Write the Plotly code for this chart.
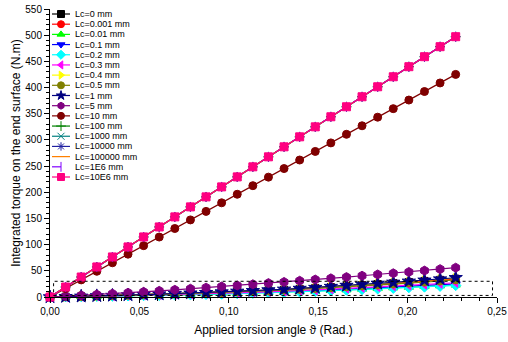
import plotly.graph_objects as go

# ---------------- data ----------------
angle_rad = [0, 0.00873, 0.01745, 0.02618, 0.03491, 0.04363, 0.05236, 0.06109, 0.06981,
             0.07854, 0.08727, 0.09599, 0.10472, 0.11345, 0.12217, 0.1309, 0.13963,
             0.14835, 0.15708, 0.16581, 0.17453, 0.18326, 0.19199, 0.20071, 0.20944,
             0.21817, 0.22689]

labels = ["Lc=0 mm", "Lc=0.001 mm", "Lc=0.01 mm", "Lc=0.1 mm", "Lc=0.2 mm", "Lc=0.3 mm",
          "Lc=0.4 mm", "Lc=0.5 mm", "Lc=1 mm", "Lc=5 mm", "Lc=10 mm", "Lc=100 mm",
          "Lc=1000 mm", "Lc=10000 mm", "Lc=100000 mm", "Lc=1E6 mm", "Lc=10E6 mm"]

torque_lc0 = [0, 0.6, 1.2, 2.0, 2.8, 3.6, 4.5, 5.4, 6.3, 7.2, 8.1, 9.2, 10.4, 11.6, 12.9, 14.2,
              15.7, 17.3, 19.1, 21.0, 22.9, 24.8, 26.8, 28.7, 30.7, 32.8, 35.0]
torque_lc0001 = [0, 0.6, 1.2, 1.9, 2.7, 3.5, 4.4, 5.3, 6.2, 7.1, 8.0, 9.1, 10.2, 11.4, 12.7, 14.0,
                 15.4, 17.0, 18.7, 20.6, 22.4, 24.3, 26.2, 28.1, 30.1, 32.1, 34.2]
torque_lc001 = [0, 0.4, 0.8, 1.3, 1.8, 2.4, 2.9, 3.5, 4.1, 4.6, 5.2, 5.9, 6.7, 7.5, 8.3, 9.1,
                10.1, 11.2, 12.4, 13.6, 14.9, 16.1, 17.4, 18.6, 19.9, 21.3, 22.8]
torque_lc01 = [0, 0.4, 0.9, 1.4, 2.0, 2.6, 3.2, 3.8, 4.5, 5.0, 5.7, 6.5, 7.3, 8.2, 9.1, 10.0,
               11.1, 12.2, 13.6, 15.0, 16.3, 17.7, 19.0, 20.4, 21.8, 23.3, 25.0]
torque_lc02 = [0, 0.4, 0.8, 1.3, 1.7, 2.3, 2.8, 3.4, 4.0, 4.4, 5.0, 5.7, 6.5, 7.2, 8.0, 8.8,
               9.8, 10.8, 12.0, 13.2, 14.4, 15.6, 16.8, 18.0, 19.2, 20.6, 22.1]
torque_lc03 = [0, 0.4, 0.9, 1.5, 2.1, 2.8, 3.5, 4.2, 4.9, 5.5, 6.2, 7.0, 8.0, 8.9, 9.9, 10.9,
               12.1, 13.3, 14.8, 16.3, 17.8, 19.2, 20.7, 22.2, 23.7, 25.4, 27.2]
torque_lc04 = [0, 0.6, 1.3, 2.1, 2.9, 3.7, 4.6, 5.5, 6.5, 7.4, 8.4, 9.5, 10.7, 11.9, 13.2, 14.6,
               16.1, 17.7, 19.5, 21.4, 23.3, 25.3, 27.3, 29.3, 31.4, 33.6, 36.0]
torque_lc05 = [0, 0.5, 1.1, 1.8, 2.5, 3.3, 4.1, 4.9, 5.8, 6.7, 7.6, 8.6, 9.7, 10.8, 12.0, 13.2,
               14.6, 16.1, 17.7, 19.4, 21.1, 22.9, 24.7, 26.5, 28.4, 30.4, 32.5]
torque_lc1 = [0, 0.6, 1.3, 2.1, 2.9, 3.8, 4.7, 5.6, 6.6, 7.4, 8.3, 9.5, 10.8, 12.0, 13.4, 14.7,
              16.3, 18.0, 20.0, 22.0, 24.0, 26.0, 28.0, 30.0, 32.0, 34.3, 36.8]
torque_lc5 = [0, 1.5, 3.1, 4.7, 6.4, 8.1, 9.8, 11.7, 13.7, 15.8, 17.9, 20.0, 22.0, 24.3, 26.5,
              28.7, 31.0, 33.3, 35.6, 38.0, 40.6, 43.0, 45.3, 47.8, 50.4, 53.2, 56.0]
torque_lc10 = [0, 16.4, 32.7, 49.1, 65.4, 81.8, 98.1, 114.5, 130.8, 147.2, 163.5, 179.9, 196.2,
               212.6, 228.9, 245.3, 261.6, 278.0, 294.3, 310.7, 327.0, 343.4, 359.7, 376.1,
               392.4, 408.8, 425.1]
torque_large = [0, 19.1, 38.2, 57.4, 76.5, 95.6, 114.7, 133.8, 153.0, 172.1, 191.2, 210.3, 229.4,
                248.6, 267.7, 286.8, 305.9, 325.0, 344.2, 363.3, 382.4, 401.5, 420.6, 439.8,
                458.9, 478.0, 497.1]

series_values = [torque_lc0, torque_lc0001, torque_lc001, torque_lc01, torque_lc02, torque_lc03,
                 torque_lc04, torque_lc05, torque_lc1, torque_lc5, torque_lc10,
                 torque_large, torque_large, torque_large, torque_large, torque_large, torque_large]

# ---------------- styles ----------------
styles = [
    dict(color="#000000", symbol="square", size=7, dash="solid"),
    dict(color="#ff0000", symbol="circle", size=8, dash="solid"),
    dict(color="#00ff00", symbol="triangle-up", size=8, dash="solid"),
    dict(color="#0000ff", symbol="triangle-down", size=8, dash="solid"),
    dict(color="#00ffff", symbol="diamond", size=8, dash="solid"),
    dict(color="#ff00ff", symbol="triangle-left", size=8, dash="solid"),
    dict(color="#ffff00", symbol="triangle-right", size=8, dash="solid"),
    dict(color="#808000", symbol="circle", size=8, dash="solid"),
    dict(color="#000080", symbol="star", size=10, dash="solid"),
    dict(color="#800080", symbol="hexagon", size=9, dash="solid"),
    dict(color="#800000", symbol="circle", size=8, dash="solid"),
    dict(color="#008000", symbol="cross-thin-open", size=7, dash="solid"),
    dict(color="#008080", symbol="x-thin-open", size=7, dash="solid"),
    dict(color="#2020a0", symbol="asterisk-open", size=8, dash="solid"),
    dict(color="#ff8000", symbol=None, size=0, dash="solid"),
    dict(color="#8000ff", symbol="line-ns-open", size=7, dash="dash"),
    dict(color="#ff0080", symbol="square", size=8, dash="solid"),
]

fig = go.Figure()

for lab, vals, st in zip(labels, series_values, styles):
    mode = "lines+markers" if st["symbol"] else "lines"
    marker = dict(symbol=st["symbol"], size=st["size"], color=st["color"],
                  line=dict(color=st["color"], width=1)) if st["symbol"] else None
    fig.add_trace(go.Scatter(x=angle_rad, y=vals, mode=mode, name=lab,
                             line=dict(color=st["color"], width=1.2, dash=st["dash"]),
                             marker=marker, cliponaxis=False, showlegend=False))

# ---------------- custom compact legend (on overlay axes) ----------------
for i, (lab, st) in enumerate(zip(labels, styles)):
    fig.add_trace(go.Scatter(x=[2, 20], y=[i, i], mode="lines", xaxis="x2", yaxis="y2",
                             line=dict(color=st["color"], width=1.2, dash=st["dash"]),
                             showlegend=False, hoverinfo="skip", cliponaxis=False))
    if st["symbol"]:
        fig.add_trace(go.Scatter(x=[11], y=[i], mode="markers", xaxis="x2", yaxis="y2",
                                 marker=dict(symbol=st["symbol"], size=7, color=st["color"],
                                             line=dict(color=st["color"], width=1)),
                                 showlegend=False, hoverinfo="skip", cliponaxis=False))
    fig.add_annotation(x=23, y=i, xref="x2", yref="y2", text=lab, showarrow=False,
                       xanchor="left", yanchor="middle",
                       font=dict(family="Arial, Liberation Sans", size=9, color="#000000"))

# dashed zoom box
fig.add_shape(type="rect", x0=0.002, x1=0.2475, y0=3, y1=30, xref="x", yref="y",
              line=dict(color="#000000", width=1, dash="3px,3px"))

axis_font = dict(family="Arial, Liberation Sans", size=10, color="#000000")
title_font = dict(family="Arial, Liberation Sans", size=12, color="#000000")
fig.update_layout(
    width=508, height=342, autosize=False,
    margin=dict(l=50, r=11, t=9, b=45),
    paper_bgcolor="white", plot_bgcolor="white",
    separators=",.",
    font=dict(family="Arial, Liberation Sans", size=10, color="#000000"),
    xaxis=dict(range=[0, 0.25], dtick=0.05, tickformat=".2f", showgrid=False, zeroline=False,
               automargin=False,
               showline=True, linecolor="#000000", linewidth=1, ticks="outside", ticklen=5,
               tickcolor="#000000", tickfont=axis_font,
               minor=dict(dtick=0.01, ticks="outside", ticklen=3, tickcolor="#000000"),
               title=dict(text="Applied torsion angle ϑ (Rad.)", font=title_font, standoff=9)),
    yaxis=dict(range=[0, 550], dtick=50, showgrid=False, zeroline=False,
               automargin=False,
               showline=True, linecolor="#000000", linewidth=1, ticks="outside", ticklen=5,
               tickcolor="#000000", tickfont=axis_font,
               minor=dict(dtick=10, ticks="outside", ticklen=3, tickcolor="#000000"),
               title=dict(text="Integrated torque on the end surface (N.m)", font=title_font,
                          standoff=2)),
    xaxis2=dict(overlaying="x", anchor="y2", range=[0, 447], visible=False, fixedrange=True),
    yaxis2=dict(overlaying="y", anchor="x2", range=[27.78, -0.491], visible=False, fixedrange=True),
)

fig.write_html("out.html")
